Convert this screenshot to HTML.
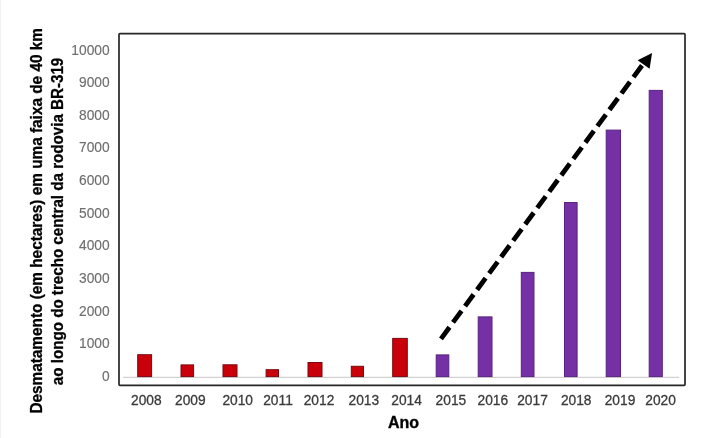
<!DOCTYPE html>
<html><head><meta charset="utf-8">
<style>
html,body{margin:0;padding:0;background:#fff;}
body{width:714px;height:438px;overflow:hidden;position:relative;font-family:"Liberation Sans",sans-serif;}
svg{position:absolute;left:0;top:0;}
text{font-family:"Liberation Sans",sans-serif;}
.g{opacity:0.999;}
svg{will-change:transform;}
</style></head>
<body>
<svg width="714" height="438" viewBox="0 0 714 438">
<rect x="0" y="0" width="1" height="438" fill="#f2f2f2"/>
<rect x="119" y="33.6" width="566" height="351.7" fill="none" stroke="#262626" stroke-width="1.7" rx="1"/>
<line x1="123" y1="377.4" x2="679" y2="377.4" stroke="#d2d2d2" stroke-width="1.1"/>
<g class="g" fill="#6e6e6e" stroke="#6e6e6e" stroke-width="0.15" font-size="14.5" text-anchor="end">
<text transform="translate(109.60 380.90) scale(0.950 1)">0</text>
<text transform="translate(109.60 348.27) scale(0.950 1)">1000</text>
<text transform="translate(109.60 315.64) scale(0.950 1)">2000</text>
<text transform="translate(109.60 283.01) scale(0.950 1)">3000</text>
<text transform="translate(109.60 250.38) scale(0.950 1)">4000</text>
<text transform="translate(109.60 217.75) scale(0.950 1)">5000</text>
<text transform="translate(109.60 185.12) scale(0.950 1)">6000</text>
<text transform="translate(109.60 152.49) scale(0.950 1)">7000</text>
<text transform="translate(109.60 119.86) scale(0.950 1)">8000</text>
<text transform="translate(109.60 87.23) scale(0.950 1)">9000</text>
<text transform="translate(109.60 54.60) scale(0.950 1)">10000</text>
</g>
<rect x="137.70" y="354.70" width="13.90" height="21.90" fill="#c9000a" stroke="#7c0610" stroke-width="1"/>
<rect x="181.00" y="364.90" width="12.60" height="11.70" fill="#c9000a" stroke="#7c0610" stroke-width="1"/>
<rect x="223.00" y="364.80" width="14.00" height="11.80" fill="#c9000a" stroke="#7c0610" stroke-width="1"/>
<rect x="266.10" y="369.70" width="12.40" height="6.90" fill="#c9000a" stroke="#7c0610" stroke-width="1"/>
<rect x="308.00" y="362.50" width="14.00" height="14.10" fill="#c9000a" stroke="#7c0610" stroke-width="1"/>
<rect x="351.30" y="366.30" width="12.20" height="10.30" fill="#c9000a" stroke="#7c0610" stroke-width="1"/>
<rect x="392.70" y="338.40" width="14.60" height="38.20" fill="#c9000a" stroke="#7c0610" stroke-width="1"/>
<rect x="436.20" y="354.90" width="12.60" height="21.70" fill="#7630a5" stroke="#582480" stroke-width="1"/>
<rect x="478.20" y="316.90" width="13.80" height="59.70" fill="#7630a5" stroke="#582480" stroke-width="1"/>
<rect x="521.30" y="272.40" width="12.70" height="104.20" fill="#7630a5" stroke="#582480" stroke-width="1"/>
<rect x="564.50" y="202.50" width="12.60" height="174.10" fill="#7630a5" stroke="#582480" stroke-width="1"/>
<rect x="606.20" y="130.10" width="14.30" height="246.50" fill="#7630a5" stroke="#582480" stroke-width="1"/>
<rect x="649.20" y="90.40" width="13.10" height="286.20" fill="#7630a5" stroke="#582480" stroke-width="1"/>
<line x1="441.00" y1="338.80" x2="642.00" y2="65.50" stroke="#000" stroke-width="4.8" stroke-dasharray="14.337 5.970"/>
<polygon points="652.10,52.90 649.57,68.87 637.63,60.13" fill="#000"/>
<g class="g" fill="#3a3a3a" stroke="#3a3a3a" stroke-width="0.3" font-size="14.5">
<text transform="translate(131.00 405.00) scale(0.950 1)">2008</text>
<text transform="translate(175.00 405.00) scale(0.950 1)">2009</text>
<text transform="translate(222.40 405.00) scale(0.950 1)">2010</text>
<text transform="translate(263.20 405.00) scale(0.950 1)">2011</text>
<text transform="translate(303.70 405.00) scale(0.950 1)">2012</text>
<text transform="translate(348.50 405.00) scale(0.950 1)">2013</text>
<text transform="translate(391.30 405.00) scale(0.950 1)">2014</text>
<text transform="translate(435.60 405.00) scale(0.950 1)">2015</text>
<text transform="translate(477.50 405.00) scale(0.950 1)">2016</text>
<text transform="translate(517.20 405.00) scale(0.950 1)">2017</text>
<text transform="translate(560.90 405.00) scale(0.950 1)">2018</text>
<text transform="translate(604.70 405.00) scale(0.950 1)">2019</text>
<text transform="translate(645.30 405.00) scale(0.950 1)">2020</text>
</g>
<text x="388" y="427.7" font-size="16" font-weight="bold" fill="#000" stroke="#000" stroke-width="0.35">Ano</text>
<g transform="translate(41.7,413.6) rotate(-90)"><text x="0" y="0" font-size="16" font-weight="bold" fill="#000" stroke="#000" stroke-width="0.3" textLength="385.5" lengthAdjust="spacingAndGlyphs">Desmatamento (em hectares) em uma faixa de 40 km</text></g>
<g transform="translate(62.9,385.2) rotate(-90)"><text x="0" y="0" font-size="16" font-weight="bold" fill="#000" stroke="#000" stroke-width="0.3" textLength="327.5" lengthAdjust="spacingAndGlyphs">ao longo do trecho central da rodovia BR-319</text></g>
</svg>
</body></html>
